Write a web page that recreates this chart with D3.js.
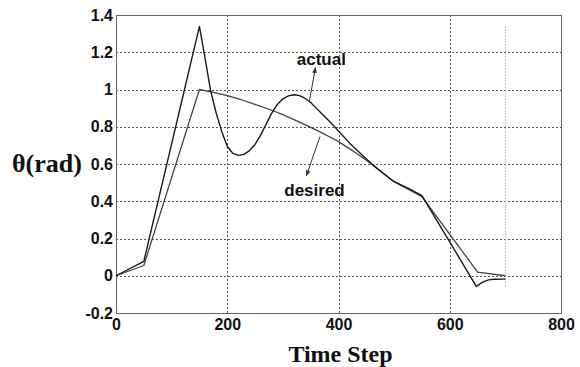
<!DOCTYPE html>
<html>
<head>
<meta charset="utf-8">
<script src="https://cdn.jsdelivr.net/npm/d3@7/dist/d3.min.js"></script>
<style>
  html, body { margin: 0; padding: 0; background: #fff; }
  svg { display: block; }
</style>
</head>
<body>
<svg id="chart" width="580" height="367"></svg>
<script>
// Joint angle tracking: actual response vs. desired trajectory
const timeActual = [0, 50, 150, 160, 170, 180, 190, 200, 210, 220, 230, 240, 250, 260, 270, 280, 290, 300,
  310, 320, 330, 340, 350, 360, 370, 380, 390, 400, 420, 440, 460, 480, 500, 525, 550, 648, 655, 662, 670, 680, 700];
const thetaActual = [0, 0.077, 1.339, 1.17, 0.995, 0.875, 0.775, 0.695, 0.657, 0.646, 0.652, 0.672, 0.705, 0.755, 0.815, 0.873, 0.92, 0.95,
  0.966, 0.972, 0.967, 0.952, 0.93, 0.9, 0.87, 0.84, 0.81, 0.777, 0.712, 0.655, 0.6, 0.55, 0.505, 0.47, 0.43, -0.058, -0.042, -0.03, -0.022, -0.019, -0.018];

const timeDesired = [0, 50, 150, 175, 200, 225, 250, 275, 300, 325, 350, 375, 400, 425, 450, 475, 500, 550, 650, 700];
const thetaDesired = [0, 0.055, 1.0, 0.985, 0.967, 0.945, 0.92, 0.894, 0.865, 0.832, 0.797, 0.76, 0.72, 0.672, 0.62, 0.563, 0.505, 0.425, 0.02, 0.0];

// End-of-run marker
const markerTime = 700;
const markerRange = [-0.058, 1.34];

const xTicks = [0, 200, 400, 600, 800];
const yTicks = [-0.2, 0, 0.2, 0.4, 0.6, 0.8, 1.0, 1.2, 1.4];

const svg = d3.select("#chart");
const x = d3.scaleLinear().domain([0, 800]).range([116, 561]);
const y = d3.scaleLinear().domain([-0.2, 1.4]).range([313, 15]);

// grid
const grid = svg.append("g").attr("stroke", "#555").attr("stroke-width", 1)
  .attr("stroke-dasharray", "2,2").attr("shape-rendering", "crispEdges");
grid.selectAll("line.v").data(xTicks.slice(1, -1)).join("line")
  .attr("x1", d => Math.round(x(d)) + 0.5).attr("x2", d => Math.round(x(d)) + 0.5)
  .attr("y1", y(1.4)).attr("y2", y(-0.2));
grid.selectAll("line.h").data(yTicks.slice(1, -1)).join("line")
  .attr("y1", d => Math.round(y(d)) + 0.5).attr("y2", d => Math.round(y(d)) + 0.5)
  .attr("x1", x(0)).attr("x2", x(800));

// marker line at end of run
svg.append("line")
  .attr("x1", x(markerTime)).attr("x2", x(markerTime))
  .attr("y1", y(markerRange[1])).attr("y2", y(markerRange[0]))
  .attr("stroke", "#bbb").attr("stroke-width", 1).attr("stroke-dasharray", "2,1");

// plot frame
svg.append("rect")
  .attr("x", x(0) + 0.5).attr("y", y(1.4) + 0.5)
  .attr("width", x(800) - x(0)).attr("height", y(-0.2) - y(1.4))
  .attr("fill", "none").attr("stroke", "#666").attr("stroke-width", 1);

// series
const line = d3.line().x(d => x(d[0])).y(d => y(d[1])).curve(d3.curveLinear);
svg.append("path")
  .datum(d3.zip(timeDesired, thetaDesired))
  .attr("d", line).attr("fill", "none").attr("stroke", "#444").attr("stroke-width", 1.3)
  .attr("stroke-linejoin", "round");
svg.append("path")
  .datum(d3.zip(timeActual, thetaActual))
  .attr("d", line).attr("fill", "none").attr("stroke", "#1a1a1a").attr("stroke-width", 1.4)
  .attr("stroke-linejoin", "round");

// axes
const fmt = d => (d === 0 ? "0" : String(+d.toFixed(1)));
const xAxis = svg.append("g").attr("transform", `translate(0,${y(-0.2)})`)
  .call(d3.axisBottom(x).tickValues(xTicks).tickSize(0).tickPadding(6).tickFormat(fmt));
const yAxis = svg.append("g").attr("transform", `translate(${x(0)},0)`)
  .call(d3.axisLeft(y).tickValues(yTicks).tickSize(0).tickPadding(3).tickFormat(fmt));
[xAxis, yAxis].forEach(g => {
  g.select(".domain").remove();
  g.selectAll("text").attr("font-family", "'Liberation Sans', Arial, sans-serif")
    .attr("font-weight", "bold").attr("font-size", 16).attr("fill", "#111");
});

// axis titles
svg.append("text").attr("x", (x(0) + x(800)) / 2 + 2).attr("y", 362)
  .attr("text-anchor", "middle")
  .attr("font-family", "'Liberation Serif', 'Times New Roman', serif")
  .attr("font-weight", "bold").attr("font-size", 24).attr("fill", "#111")
  .text("Time Step");
svg.append("text").attr("x", 12).attr("y", 172)
  .attr("font-family", "'Liberation Serif', 'Times New Roman', serif")
  .attr("font-weight", "bold").attr("font-size", 26).attr("fill", "#111")
  .text("θ(rad)");

// annotations
svg.append("defs").append("marker")
  .attr("id", "tip").attr("viewBox", "0 0 10 10").attr("refX", 9).attr("refY", 5)
  .attr("markerWidth", 6).attr("markerHeight", 6).attr("orient", "auto")
  .append("path").attr("d", "M0,1 L10,5 L0,9 Z").attr("fill", "#333");

const notes = [
  { label: "actual", tx: 325, ty: 1.133, from: [347.5, 0.936], to: [358.6, 1.117] },
  { label: "desired", tx: 302.5, ty: 0.43, from: [366.7, 0.748], to: [342.4, 0.537] }
];
notes.forEach(n => {
  svg.append("line")
    .attr("x1", x(n.from[0])).attr("y1", y(n.from[1]))
    .attr("x2", x(n.to[0])).attr("y2", y(n.to[1]))
    .attr("stroke", "#333").attr("stroke-width", 1).attr("marker-end", "url(#tip)");
  svg.append("text").attr("x", x(n.tx)).attr("y", y(n.ty))
    .attr("font-family", "'Liberation Sans', Arial, sans-serif")
    .attr("font-weight", "bold").attr("font-size", 17).attr("fill", "#111")
    .text(n.label);
});
</script>
</body>
</html>
